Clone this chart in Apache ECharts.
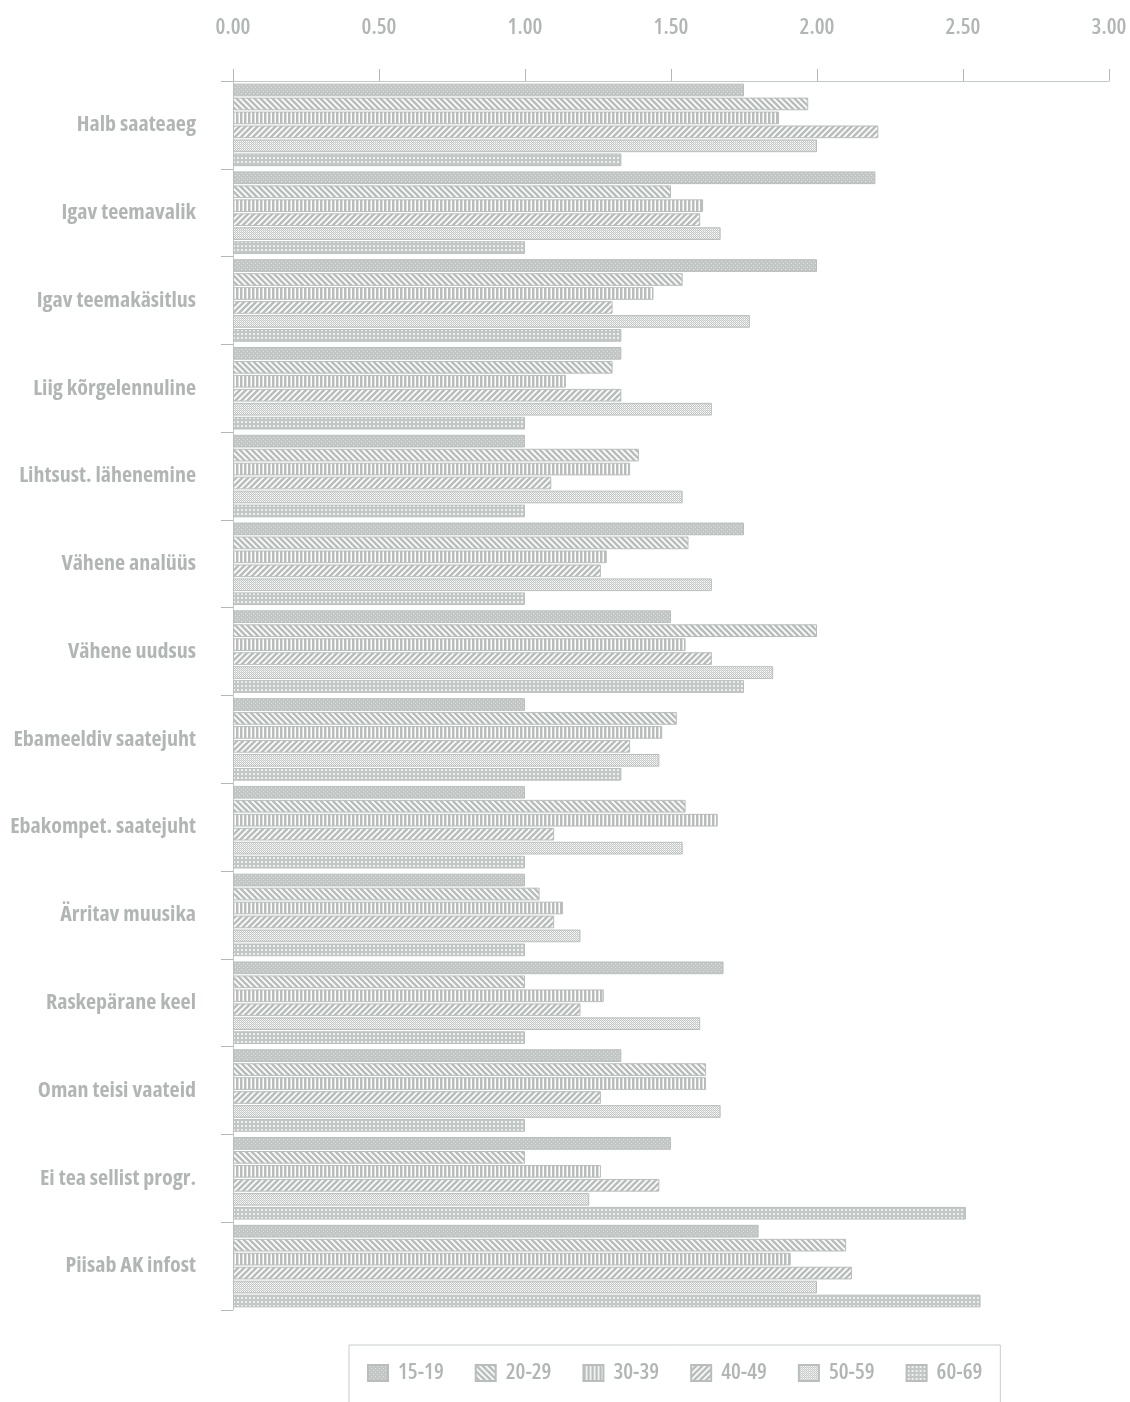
<!DOCTYPE html>
<html>
<head>
<meta charset="utf-8">
<script src="https://cdn.jsdelivr.net/npm/echarts@6/dist/echarts.min.js"></script>
<style>html,body{margin:0;padding:0;background:#fff;}#c{width:1130px;height:1402px;}</style>
</head>
<body>
<div id="c"></div>
<script>
const categories = ["Halb saateaeg","Igav teemavalik","Igav teemakäsitlus","Liig kõrgelennuline","Lihtsust. lähenemine","Vähene analüüs","Vähene uudsus","Ebameeldiv saatejuht","Ebakompet. saatejuht","Ärritav muusika","Raskepärane keel","Oman teisi vaateid","Ei tea sellist progr.","Piisab AK infost"];
const seriesNames = ["15-19","20-29","30-39","40-49","50-59","60-69"];
const s1519 = [1.75, 2.20, 2.00, 1.33, 1.00, 1.75, 1.50, 1.00, 1.00, 1.00, 1.68, 1.33, 1.50, 1.80];
const s2029 = [1.97, 1.50, 1.54, 1.30, 1.39, 1.56, 2.00, 1.52, 1.55, 1.05, 1.00, 1.62, 1.00, 2.10];
const s3039 = [1.87, 1.61, 1.44, 1.14, 1.36, 1.28, 1.55, 1.47, 1.66, 1.13, 1.27, 1.62, 1.26, 1.91];
const s4049 = [2.21, 1.60, 1.30, 1.33, 1.09, 1.26, 1.64, 1.36, 1.10, 1.10, 1.19, 1.26, 1.46, 2.12];
const s5059 = [2.00, 1.67, 1.77, 1.64, 1.54, 1.64, 1.85, 1.46, 1.54, 1.19, 1.60, 1.67, 1.22, 2.00];
const s6069 = [1.33, 1.00, 1.33, 1.00, 1.00, 1.00, 1.75, 1.33, 1.00, 1.00, 1.00, 1.00, 2.51, 2.56];
const seriesValues = [s1519, s2029, s3039, s4049, s5059, s6069];
const xTicks = [0, 0.5, 1, 1.5, 2, 2.5, 3];

// pick the narrowest available bold sans face
const mctx = document.createElement('canvas').getContext('2d');
function measure(font, txt) { mctx.font = font; return mctx.measureText(txt).width; }
const candidates = [
  { weight: 'condensed bold', family: '"DejaVu Sans"' },
  { weight: 'bold', family: '"DejaVu Sans Condensed"' },
  { weight: 'bold', family: '"Liberation Sans Narrow"' },
  { weight: 'condensed bold', family: '"Open Sans"' },
  { weight: 'bold', family: '"Roboto"' },
  { weight: 'bold', family: '"Liberation Sans"' },
  { weight: 'bold', family: '"Noto Sans"' }
];
const SAMPLE = 'Ebakompet. saatejuht';
let best = candidates[candidates.length - 1], bestW = Infinity;
candidates.forEach(c => {
  const w = measure('normal ' + c.weight + ' 20px ' + c.family + ', monospace', SAMPLE);
  if (w < bestW) { bestW = w; best = c; }
});
const FONT = best.family + ', sans-serif';
const WEIGHT_B = best.weight;
const WEIGHT_N = best.weight.replace('bold', '600');
const labelSize = Math.min(22, Math.floor(20 * 189 / bestW * 10) / 10);
const legendSize = Math.min(22, labelSize + 1);
const legendTextW = measure('normal ' + WEIGHT_N + ' ' + legendSize + 'px ' + FONT, '15-19');
const legendGap = Math.max(10, Math.round((646 - 36 - 6 * (20 + 10 + legendTextW)) / 5));

const G = '#b8bdbc';
function pat(w, h, draw) {
  const c = document.createElement('canvas');
  c.width = w; c.height = h;
  const g = c.getContext('2d');
  g.fillStyle = '#ffffff'; g.fillRect(0, 0, w, h);
  draw(g, w, h);
  return { image: c, repeat: 'repeat' };
}
const patterns = [
  pat(4, 4, (g) => { g.fillStyle = '#c2c6c5'; g.fillRect(0,0,4,4); g.fillStyle = '#dfe2e1'; g.fillRect(1,1,1,1); g.fillRect(3,3,1,1); }),
  pat(6, 6, (g) => { g.strokeStyle = G; g.lineWidth = 2.6; [-6,0,6].forEach(k => { g.beginPath(); g.moveTo(-1, -1 + k); g.lineTo(7, 7 + k); g.stroke(); }); }),
  pat(4, 4, (g) => { g.fillStyle = G; g.fillRect(0,0,2,4); g.fillStyle = '#dcdfde'; g.fillRect(2,0,1,4); }),
  pat(6, 6, (g) => { g.strokeStyle = G; g.lineWidth = 2.6; [-6,0,6].forEach(k => { g.beginPath(); g.moveTo(-1, 7 + k); g.lineTo(7, -1 + k); g.stroke(); }); }),
  pat(2, 2, (g) => { g.fillStyle = '#c2c6c5'; g.fillRect(0,0,1,1); g.fillRect(1,1,1,1); g.fillStyle = '#e6e8e7'; g.fillRect(1,0,1,1); }),
  pat(4, 4, (g) => { g.fillStyle = '#c3c7c6'; g.fillRect(0,0,4,4); g.fillStyle = '#eef0ef'; g.fillRect(1,1,2,2); })
];

const TXT = '#b1b6b5';

const chart = echarts.init(document.getElementById('c'), null, { renderer: 'canvas' });
chart.setOption({
  backgroundColor: '#ffffff',
  animation: false,
  grid: { left: 233, right: 21, top: 81, bottom: 92, containLabel: false, outerBoundsMode: 'none' },
  xAxis: {
    type: 'value', position: 'top', min: xTicks[0], max: xTicks[xTicks.length - 1], interval: 0.5,
    axisLine: { show: true, lineStyle: { color: '#c3c7c6', width: 1 } },
    axisTick: { show: true, length: 12, lineStyle: { color: '#b3b8b7', width: 1 } },
    splitLine: { show: false },
    axisLabel: { margin: 42, color: TXT, fontFamily: FONT, fontWeight: WEIGHT_N, fontSize: 22, formatter: v => v.toFixed(2) }
  },
  yAxis: {
    type: 'category', data: categories, inverse: true,
    axisLine: { show: true, lineStyle: { color: '#c3c7c6', width: 1 } },
    axisTick: { show: true, length: 12, lineStyle: { color: '#b3b8b7', width: 1 } },
    axisLabel: { margin: 37, color: TXT, fontFamily: FONT, fontSize: labelSize, fontWeight: WEIGHT_B }
  },
  legend: {
    data: seriesNames, orient: 'horizontal', left: 349, top: 1345,
    icon: 'rect', itemWidth: 20, itemHeight: 16, itemGap: legendGap,
    padding: [17, 18, 40, 18],
    borderColor: '#c8cccb', borderWidth: 1,
    textStyle: { color: TXT, fontFamily: FONT, fontWeight: WEIGHT_N, fontSize: legendSize, padding: [0, 0, 0, 5] }
  },
  series: seriesNames.map((name, i) => ({
    name: name, type: 'bar', data: seriesValues[i],
    barCategoryGap: '6%', barGap: '10%',
    itemStyle: { color: patterns[i], borderColor: '#b9bebd', borderWidth: 1 }
  }))
});
</script>
</body>
</html>
